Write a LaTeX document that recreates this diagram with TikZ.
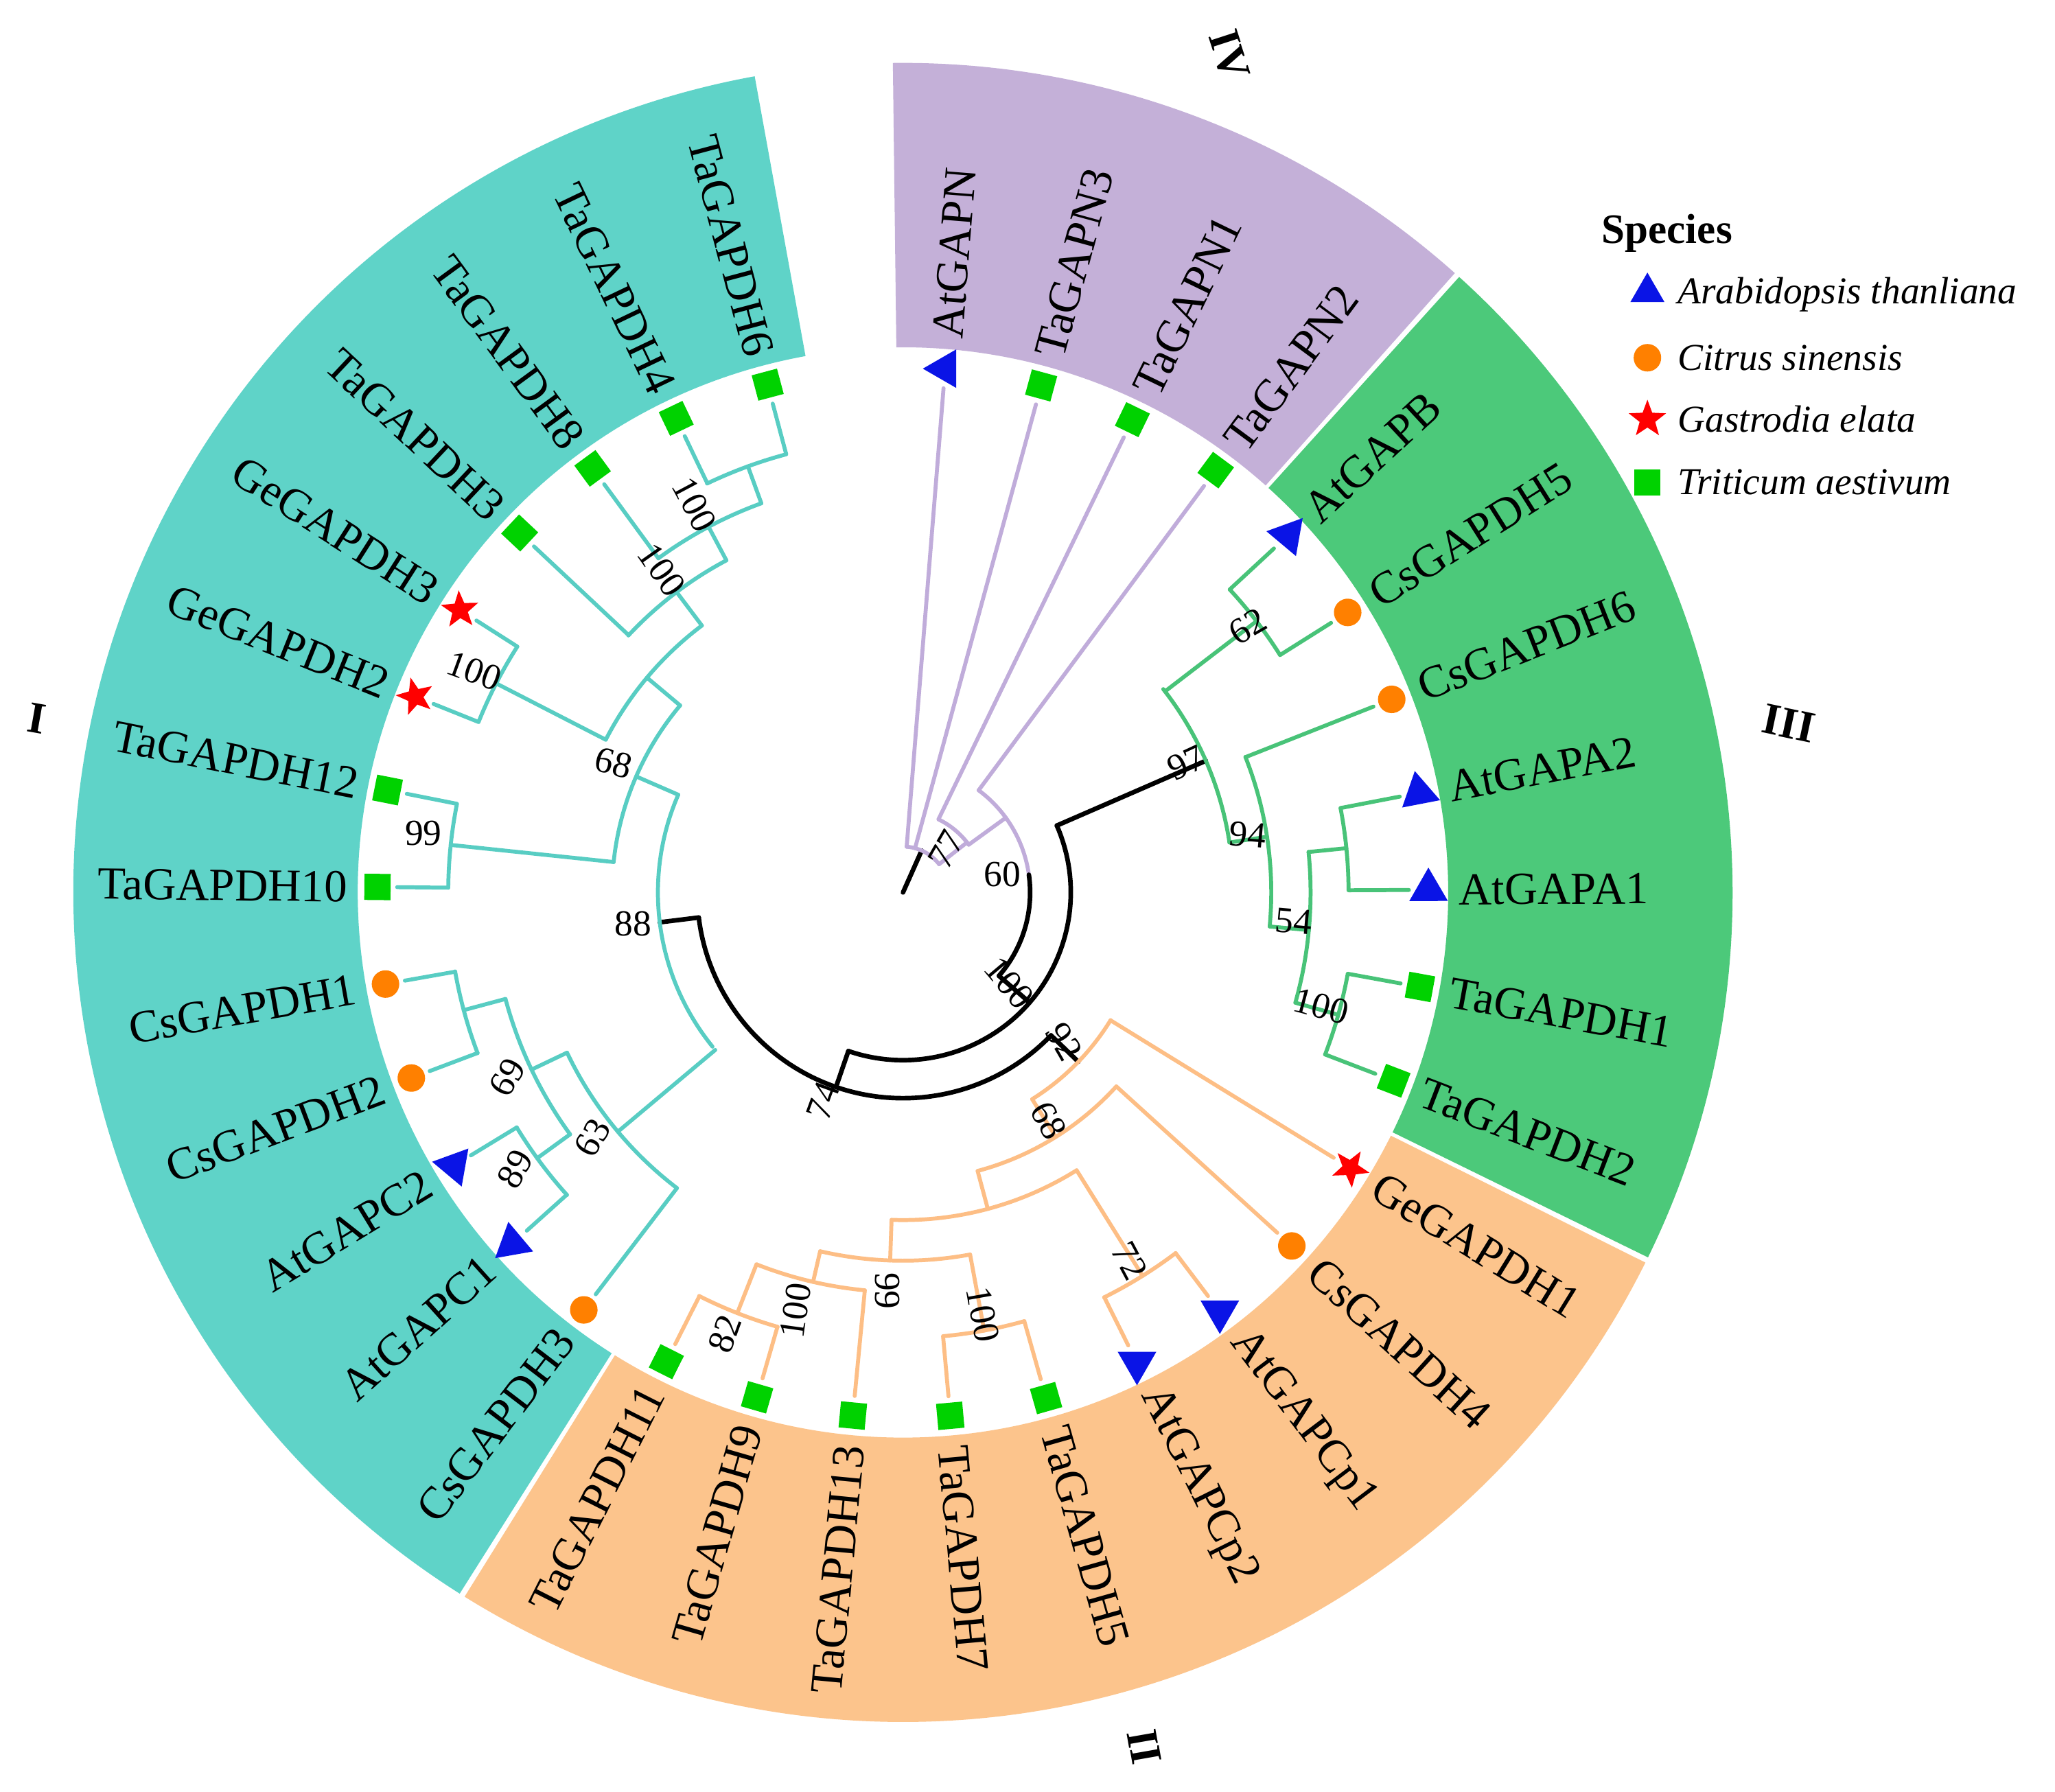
\documentclass[tikz,border=0pt]{standalone}
\usepackage{fontspec}
\setmainfont{Liberation Serif}
\usetikzlibrary{shapes.geometric}
\definecolor{cyanb}{RGB}{95,211,200}
\definecolor{greenb}{RGB}{76,201,122}
\definecolor{orangeb}{RGB}{252,196,140}
\definecolor{purpleb}{RGB}{196,176,216}
\definecolor{cyanl}{RGB}{88,205,195}
\definecolor{greenl}{RGB}{72,195,120}
\definecolor{orangel}{RGB}{253,190,133}
\definecolor{purplel}{RGB}{192,172,218}
\definecolor{sqg}{RGB}{0,210,0}
\definecolor{circo}{RGB}{255,128,0}
\definecolor{trib}{RGB}{10,20,230}
\newcommand\Br[4]{\draw[#1] (#2:#3pt) -- (#2:#4pt);}
\newcommand\Ar[4]{\draw[#1] (#3:#2pt) arc[start angle=#3, end angle=#4, radius=#2pt];}
\newcommand\Band[3]{\fill[#1] (#2:416pt) arc[start angle=#2,end angle=#3,radius=416pt] -- (#3:633pt) arc[start angle=#3,end angle=#2,radius=633pt] -- cycle;}
\tikzset{
 tr/.style={line width=3pt, line cap=round, line join=round},
 P/.style={tr, purplel}, G/.style={tr, greenl}, O/.style={tr, orangel}, C/.style={tr, cyanl}, K/.style={tr, black, line width=3.5pt},
 sq/.style={rectangle, fill=sqg, minimum size=20pt, inner sep=0},
 ci/.style={circle, fill=circo, minimum size=21pt, inner sep=0},
 st/.style={star, star points=5, star point ratio=2.4, fill=red, minimum size=30pt, inner sep=0},
 tri/.style={regular polygon, regular polygon sides=3, fill=trib, minimum size=34pt, inner sep=0},
 lab/.style={font=\fontsize{35}{40}\selectfont, inner sep=0},
 bs/.style={font=\fontsize{28}{30}\selectfont, inner sep=0},
 cl/.style={font=\fontsize{34}{36}\selectfont\bfseries, inner sep=0},
}
\begin{document}
\begin{tikzpicture}
\useasboundingbox[fill=white] (-689pt,-686pt) rectangle (879pt,681pt);
% bands
\Band{purpleb}{48.3}{90.7}
\Band{greenb}{-26.1}{47.9}
\Band{orangeb}{-121.9}{-26.5}
\Band{cyanb}{-259.7}{-122.3}
% tree: root and backbone
\Br{K}{66}{0}{35}
\Ar{P}{35}{38}{85.4}
\Br{P}{38}{35}{62}
\Ar{P}{62}{36}{64}
\Br{P}{36}{62}{97}
\Ar{P}{97}{8}{53.5}
\Ar{K}{97}{8}{-41}
\Br{K}{-41}{97}{128}
\Ar{K}{128}{23.5}{-109}
\Br{K}{23.5}{128}{252}
\Br{K}{-109}{128}{157}
\Ar{K}{157}{-44}{-173}
\Br{K}{187}{157}{187}
\Br{K}{-44}{157}{186}
% clade III
\Ar{G}{252}{8.7}{38}
\Br{G}{37.5}{252}{340}
\Ar{G}{340}{32.2}{42.8}
\Br{G}{8.7}{252}{281}
\Ar{G}{281}{-5.3}{21.6}
\Br{G}{-5.3}{281}{311}
\Ar{G}{311}{-15.7}{5.7}
\Br{G}{5.7}{311}{340}
\Ar{G}{340}{0.3}{10.9}
\Br{G}{-15.7}{311}{345}
\Ar{G}{345}{-21}{-10.4}
% clade II
\Ar{O}{186}{-58}{-31.6}
\Br{O}{-58}{186}{220}
\Ar{O}{220}{-75}{-42.3}
\Br{O}{-75}{220}{250}
\Ar{O}{250}{-92}{-58}
\Br{O}{-58}{250}{345}
\Ar{O}{345}{-63.6}{-52.9}
\Br{O}{-92}{250}{281}
\Ar{O}{281}{-103}{-79.5}
\Br{O}{-79.5}{281}{340}
\Ar{O}{340}{-84.8}{-74.2}
\Br{O}{-103}{281}{305}
\Ar{O}{305}{-111.5}{-95.5}
\Br{O}{-111.5}{305}{345}
\Ar{O}{345}{-116.8}{-106.1}
% clade I
\Ar{C}{187}{156.5}{219}
\Br{C}{220}{187}{284}
\Ar{C}{284}{205.5}{232.6}
\Br{C}{205.5}{284}{314}
\Ar{C}{314}{195}{216}
\Br{C}{195}{314}{347}
\Ar{C}{347}{190}{200.7}
\Br{C}{216}{314}{345}
\Ar{C}{345}{211.3}{222}
\Br{C}{156.5}{187}{222}
\Ar{C}{222}{140}{174}
\Br{C}{174}{222}{347}
\Ar{C}{347}{168.8}{179.4}
\Br{C}{140}{222}{255}
\Ar{C}{255}{127}{152.8}
\Br{C}{152.8}{255}{349}
\Ar{C}{349}{147.5}{158.1}
\Br{C}{127}{255}{287}
\Ar{C}{287}{118}{136.9}
\Br{C}{118}{287}{316}
\Ar{C}{316}{110}{126.2}
\Br{C}{110}{316}{346}
\Ar{C}{346}{105}{115.6}
% leaves
\foreach \i/\nm/\pr/\st/\sy/\ro in {
0/AtGAPN/35/P/tri/90, 1/TaGAPN3/35/P/sq/0, 2/TaGAPN1/62/P/sq/0, 3/TaGAPN2/97/P/sq/0,
4/AtGAPB/340/G/tri/80, 5/CsGAPDH5/340/G/ci/0, 6/CsGAPDH6/281/G/ci/0, 7/AtGAPA2/340/G/tri/0,
8/AtGAPA1/340/G/tri/0, 9/TaGAPDH1/345/G/sq/0, 10/TaGAPDH2/345/G/sq/0,
11/GeGAPDH1/186/O/st/0, 12/CsGAPDH4/220/O/ci/0, 13/AtGAPCp1/345/O/tri/180, 14/AtGAPCp2/345/O/tri/180,
15/TaGAPDH5/340/O/sq/0, 16/TaGAPDH7/340/O/sq/0, 17/TaGAPDH13/305/O/sq/0, 18/TaGAPDH9/345/O/sq/0, 19/TaGAPDH11/345/O/sq/0,
20/CsGAPDH3/284/C/ci/0, 21/AtGAPC1/345/C/tri/10, 22/AtGAPC2/345/C/tri/80, 23/CsGAPDH2/347/C/ci/0,
24/CsGAPDH1/347/C/ci/0, 25/TaGAPDH10/347/C/sq/0, 26/TaGAPDH12/347/C/sq/0, 27/GeGAPDH2/349/C/st/0,
28/GeGAPDH3/349/C/st/0, 29/TaGAPDH3/287/C/sq/0, 30/TaGAPDH8/316/C/sq/0, 31/TaGAPDH4/346/C/sq/0, 32/TaGAPDH6/346/C/sq/0}{
 \pgfmathsetmacro\th{85.4-10.64*\i}
 \draw[\st] (\th:\pr pt) -- (\th:386pt);
 \pgfmathsetmacro\rr{ifthenelse(equal(\ro,0),\th,\ro)}
 \node[\sy, rotate=\rr] (s\i) at (\th:401pt) {};
 \pgfmathparse{cos(\th)>=0 ? 1 : 0}
 \ifnum\pgfmathresult=1
   \node[lab, anchor=west, rotate=\th] (l\i) at (\th:424pt) {\nm};
 \else
   \pgfmathsetmacro\rt{\th-180}
   \node[lab, anchor=east, rotate=\rt] (l\i) at (\th:424pt) {\nm};
 \fi
}
% bootstrap values
\foreach \x/\y/\r/\t in {-159/296/-62/100, -184/246/-55/100, -327/169/-20/100, -221/99/-15/68,
 -366/45/0/99, -206/-24/0/88, -302/-141/60/69, -237/-187/60/63, -296/-211/60/89,
 -61/-159/70/74, -136/-337/70/82, -82/-319/82/100, -12/-304/-90/99, 61/-322/-80/100,
 173/-281/-62/72, 111/-174/-62/68, 123/-114/-60/92, 81/-69/-50/100, 33/33/60/77, 76/14/0/60,
 216/99/25/97, 263/44/-5/94, 298/-22/-5/54, 319/-87/-15/100, 263/203/30/62}{
 \node[bs, rotate=\r] at (\x pt,\y pt) {\t};
}
% clade numerals
\node[cl, rotate=-10] (cI) at (-661pt,133pt) {I};
\node[cl, rotate=-72] (cIV) at (249pt,639pt) {IV};
\node[cl, rotate=-12] (cIII) at (676pt,129pt) {III};
\node[cl, rotate=-80] (cII) at (184pt,-652pt) {II};
% legend
\node[font=\fontsize{32}{34}\selectfont\bfseries, anchor=west, inner sep=0] (lg) at (533pt,503pt) {Species};
\node[tri, minimum size=30pt] (g1) at (568pt,458pt) {};
\node[ci] (g2) at (568pt,408pt) {};
\node[st] (g3) at (568pt,361pt) {};
\node[sq] (g4) at (568pt,313pt) {};
\foreach \y/\t in {456/Arabidopsis thanliana, 408/Citrus sinensis, 361/Gastrodia elata, 313/Triticum aestivum}{
 \node[font=\fontsize{29}{31}\selectfont\itshape, anchor=west, inner sep=0] at (591pt,\y pt) {\t};
}
\end{tikzpicture}
\end{document}
